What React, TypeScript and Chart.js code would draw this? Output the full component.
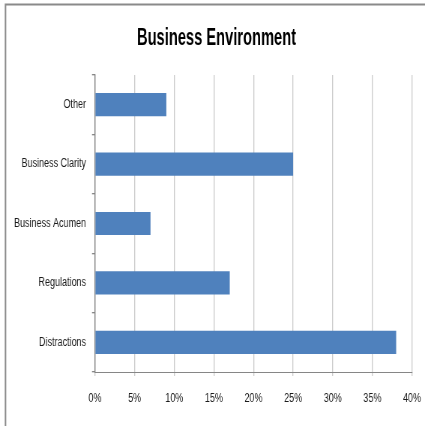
import React, { useEffect, useRef } from 'react';
import { Chart, registerables } from 'chart.js';

Chart.register(...registerables);

const chartTitle = 'Business Environment';
const categories = ['Other', 'Business Clarity', 'Business Acumen', 'Regulations', 'Distractions'];
const values = [9, 25, 7, 17, 38];
const xMin = 0;
const xMax = 40;
const xStep = 5;

const CSS_W = 425;
const CSS_H = 426;
const W = 567; // internal canvas width, squeezed horizontally to CSS_W
const SX = CSS_W / W;

const fx = (cssX: number) => cssX / SX;

const framePlugin = {
  id: 'frame',
  beforeDraw(chart: any) {
    const ctx = chart.ctx;
    ctx.save();
    ctx.fillStyle = '#ffffff';
    ctx.fillRect(0, 0, chart.width, chart.height);
    ctx.strokeStyle = '#8a8a8a';
    ctx.lineWidth = 2;
    ctx.beginPath();
    ctx.moveTo(fx(5.5), chart.height + 2);
    ctx.lineTo(fx(5.5), 4.5);
    ctx.lineTo(chart.width + 2, 4.5);
    ctx.stroke();
    ctx.restore();
  },
};

const titlePlugin = {
  id: 'squeezedTitle',
  afterDraw(chart: any) {
    const ctx = chart.ctx;
    ctx.save();
    ctx.font = "bold 24.5px 'Liberation Sans', Arial, sans-serif";
    ctx.fillStyle = '#000000';
    ctx.textAlign = 'center';
    ctx.textBaseline = 'alphabetic';
    const w = ctx.measureText(chartTitle).width;
    const k = fx(159) / w;
    ctx.translate(fx(216.5), 45);
    ctx.scale(k, 1);
    ctx.fillText(chartTitle, 0, 0);
    ctx.restore();
  },
};

export default function App() {
  const ref = useRef<HTMLCanvasElement | null>(null);

  useEffect(() => {
    if (!ref.current) return;
    const padRight = W - fx(412);
    const chart = new Chart(ref.current, {
      type: 'bar',
      data: {
        labels: categories,
        datasets: [
          {
            label: 'Series 1',
            data: values,
            backgroundColor: '#4F81BD',
            borderWidth: 0,
            barPercentage: 0.39,
            categoryPercentage: 1,
          },
        ],
      },
      options: {
        indexAxis: 'y',
        animation: false,
        responsive: false,
        devicePixelRatio: 1,
        layout: { padding: { left: 0, right: padRight, top: 75, bottom: 0 } },
        plugins: {
          legend: { display: false },
          tooltip: { enabled: false },
          title: { display: false },
        },
        scales: {
          x: {
            type: 'linear',
            min: xMin,
            max: xMax,
            ticks: {
              stepSize: xStep,
              color: '#1a1a1a',
              font: { family: "'Liberation Sans', Arial, sans-serif", size: 12 },
              padding: 15,
              callback: (v: any) => `${v}%`,
            },
            grid: {
              color: '#cccccc',
              lineWidth: 1.33,
              drawTicks: true,
              tickLength: 4,
            },
            border: { color: '#868686', width: 1 },
            afterFit: (scale: any) => {
              scale.height = CSS_H - 372;
              scale.paddingLeft = 0;
              scale.paddingRight = 0;
            },
          },
          y: {
            type: 'category',
            offset: true,
            ticks: {
              color: '#1a1a1a',
              font: { family: "'Liberation Sans', Arial, sans-serif", size: 12 },
              padding: 8,
            },
            grid: {
              offset: true,
              drawOnChartArea: false,
              drawTicks: true,
              tickLength: 4,
              color: '#868686',
              lineWidth: 1.33,
            },
            border: { color: '#868686', width: 1.33 },
            afterFit: (scale: any) => {
              scale.width = fx(95);
              scale.paddingTop = 0;
              scale.paddingBottom = 0;
            },
          },
        },
      },
      plugins: [framePlugin, titlePlugin],
    } as any);
    return () => chart.destroy();
  }, []);

  return (
    <div style={{ position: 'absolute', left: 0, top: 0, width: CSS_W, height: CSS_H, background: '#fff' }}>
      <canvas
        ref={ref}
        width={W}
        height={CSS_H}
        style={{ display: 'block', width: `${CSS_W}px`, height: `${CSS_H}px` }}
      />
    </div>
  );
}
